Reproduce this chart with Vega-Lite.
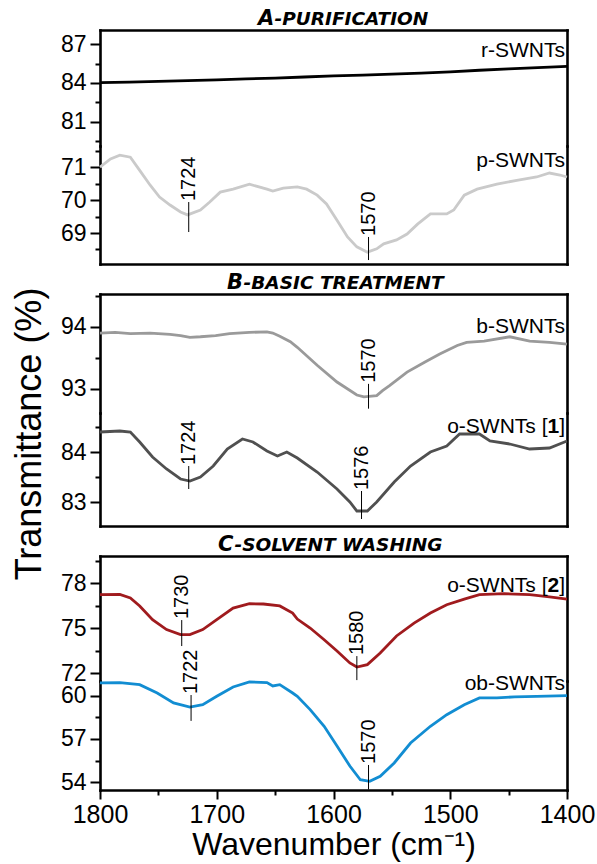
{
  "$schema": "https://vega.github.io/schema/vega-lite/v6.json",
  "padding": {"left": 12, "top": 8, "right": 4, "bottom": 2},
  "title": {"text": "Transmittance (%)", "orient": "left", "anchor": "middle", "font": "Liberation Sans", "fontSize": 36, "fontWeight": "normal", "color": "#000", "offset": 11},
  "spacing": 8,
  "datasets": {
    "spectra": [
      {"s": "r-SWNTs", "wn": 1800, "t": 84.03}, {"s": "r-SWNTs", "wn": 1775, "t": 84.07}, {"s": "r-SWNTs", "wn": 1750, "t": 84.12},
      {"s": "r-SWNTs", "wn": 1725, "t": 84.18}, {"s": "r-SWNTs", "wn": 1700, "t": 84.24}, {"s": "r-SWNTs", "wn": 1675, "t": 84.31},
      {"s": "r-SWNTs", "wn": 1650, "t": 84.38}, {"s": "r-SWNTs", "wn": 1625, "t": 84.46}, {"s": "r-SWNTs", "wn": 1600, "t": 84.55},
      {"s": "r-SWNTs", "wn": 1575, "t": 84.61}, {"s": "r-SWNTs", "wn": 1550, "t": 84.68}, {"s": "r-SWNTs", "wn": 1525, "t": 84.76},
      {"s": "r-SWNTs", "wn": 1500, "t": 84.86}, {"s": "r-SWNTs", "wn": 1475, "t": 84.98}, {"s": "r-SWNTs", "wn": 1450, "t": 85.09},
      {"s": "r-SWNTs", "wn": 1425, "t": 85.18}, {"s": "r-SWNTs", "wn": 1400, "t": 85.28},

      {"s": "p-SWNTs", "wn": 1800, "t": 71.0}, {"s": "p-SWNTs", "wn": 1791, "t": 71.25}, {"s": "p-SWNTs", "wn": 1783, "t": 71.36},
      {"s": "p-SWNTs", "wn": 1774, "t": 71.3}, {"s": "p-SWNTs", "wn": 1766, "t": 70.9}, {"s": "p-SWNTs", "wn": 1757, "t": 70.45},
      {"s": "p-SWNTs", "wn": 1749, "t": 70.09}, {"s": "p-SWNTs", "wn": 1740, "t": 69.85}, {"s": "p-SWNTs", "wn": 1731, "t": 69.64},
      {"s": "p-SWNTs", "wn": 1725, "t": 69.55}, {"s": "p-SWNTs", "wn": 1714, "t": 69.7}, {"s": "p-SWNTs", "wn": 1706, "t": 69.94},
      {"s": "p-SWNTs", "wn": 1697, "t": 70.24}, {"s": "p-SWNTs", "wn": 1686, "t": 70.33}, {"s": "p-SWNTs", "wn": 1672, "t": 70.48},
      {"s": "p-SWNTs", "wn": 1657, "t": 70.33}, {"s": "p-SWNTs", "wn": 1652, "t": 70.27}, {"s": "p-SWNTs", "wn": 1643, "t": 70.36},
      {"s": "p-SWNTs", "wn": 1631, "t": 70.4}, {"s": "p-SWNTs", "wn": 1623, "t": 70.33}, {"s": "p-SWNTs", "wn": 1614, "t": 70.15},
      {"s": "p-SWNTs", "wn": 1606, "t": 69.88}, {"s": "p-SWNTs", "wn": 1597, "t": 69.39}, {"s": "p-SWNTs", "wn": 1588, "t": 68.88},
      {"s": "p-SWNTs", "wn": 1580, "t": 68.58}, {"s": "p-SWNTs", "wn": 1571, "t": 68.42}, {"s": "p-SWNTs", "wn": 1563, "t": 68.52},
      {"s": "p-SWNTs", "wn": 1557, "t": 68.67}, {"s": "p-SWNTs", "wn": 1546, "t": 68.79}, {"s": "p-SWNTs", "wn": 1537, "t": 68.97},
      {"s": "p-SWNTs", "wn": 1528, "t": 69.27}, {"s": "p-SWNTs", "wn": 1517, "t": 69.58}, {"s": "p-SWNTs", "wn": 1503, "t": 69.58},
      {"s": "p-SWNTs", "wn": 1497, "t": 69.7}, {"s": "p-SWNTs", "wn": 1488, "t": 70.15}, {"s": "p-SWNTs", "wn": 1477, "t": 70.33},
      {"s": "p-SWNTs", "wn": 1460, "t": 70.48}, {"s": "p-SWNTs", "wn": 1443, "t": 70.6}, {"s": "p-SWNTs", "wn": 1426, "t": 70.7},
      {"s": "p-SWNTs", "wn": 1415, "t": 70.82}, {"s": "p-SWNTs", "wn": 1406, "t": 70.76}, {"s": "p-SWNTs", "wn": 1400, "t": 70.7},

      {"s": "b-SWNTs", "wn": 1800, "t": 93.9}, {"s": "b-SWNTs", "wn": 1787, "t": 93.91}, {"s": "b-SWNTs", "wn": 1774, "t": 93.89},
      {"s": "b-SWNTs", "wn": 1757, "t": 93.9}, {"s": "b-SWNTs", "wn": 1740, "t": 93.88}, {"s": "b-SWNTs", "wn": 1731, "t": 93.86},
      {"s": "b-SWNTs", "wn": 1723, "t": 93.83}, {"s": "b-SWNTs", "wn": 1714, "t": 93.84}, {"s": "b-SWNTs", "wn": 1701, "t": 93.86},
      {"s": "b-SWNTs", "wn": 1689, "t": 93.89}, {"s": "b-SWNTs", "wn": 1672, "t": 93.91}, {"s": "b-SWNTs", "wn": 1657, "t": 93.92},
      {"s": "b-SWNTs", "wn": 1652, "t": 93.9}, {"s": "b-SWNTs", "wn": 1646, "t": 93.85}, {"s": "b-SWNTs", "wn": 1637, "t": 93.76},
      {"s": "b-SWNTs", "wn": 1631, "t": 93.67}, {"s": "b-SWNTs", "wn": 1614, "t": 93.38}, {"s": "b-SWNTs", "wn": 1597, "t": 93.11},
      {"s": "b-SWNTs", "wn": 1580, "t": 92.9}, {"s": "b-SWNTs", "wn": 1574, "t": 92.87}, {"s": "b-SWNTs", "wn": 1563, "t": 92.89},
      {"s": "b-SWNTs", "wn": 1558, "t": 92.97}, {"s": "b-SWNTs", "wn": 1552, "t": 93.05}, {"s": "b-SWNTs", "wn": 1537, "t": 93.27},
      {"s": "b-SWNTs", "wn": 1522, "t": 93.43}, {"s": "b-SWNTs", "wn": 1509, "t": 93.56}, {"s": "b-SWNTs", "wn": 1494, "t": 93.7},
      {"s": "b-SWNTs", "wn": 1486, "t": 93.75}, {"s": "b-SWNTs", "wn": 1471, "t": 93.77}, {"s": "b-SWNTs", "wn": 1449, "t": 93.84},
      {"s": "b-SWNTs", "wn": 1432, "t": 93.77}, {"s": "b-SWNTs", "wn": 1415, "t": 93.75}, {"s": "b-SWNTs", "wn": 1400, "t": 93.72},

      {"s": "o-SWNTs [1]", "wn": 1800, "t": 84.4}, {"s": "o-SWNTs [1]", "wn": 1783, "t": 84.42}, {"s": "o-SWNTs [1]", "wn": 1774, "t": 84.4},
      {"s": "o-SWNTs [1]", "wn": 1766, "t": 84.2}, {"s": "o-SWNTs [1]", "wn": 1755, "t": 83.9}, {"s": "o-SWNTs [1]", "wn": 1743, "t": 83.66},
      {"s": "o-SWNTs [1]", "wn": 1731, "t": 83.46}, {"s": "o-SWNTs [1]", "wn": 1723, "t": 83.42}, {"s": "o-SWNTs [1]", "wn": 1714, "t": 83.5},
      {"s": "o-SWNTs [1]", "wn": 1703, "t": 83.72}, {"s": "o-SWNTs [1]", "wn": 1691, "t": 84.06}, {"s": "o-SWNTs [1]", "wn": 1678, "t": 84.26},
      {"s": "o-SWNTs [1]", "wn": 1669, "t": 84.2}, {"s": "o-SWNTs [1]", "wn": 1657, "t": 84.02}, {"s": "o-SWNTs [1]", "wn": 1648, "t": 83.92},
      {"s": "o-SWNTs [1]", "wn": 1640, "t": 84.0}, {"s": "o-SWNTs [1]", "wn": 1631, "t": 83.88}, {"s": "o-SWNTs [1]", "wn": 1614, "t": 83.6},
      {"s": "o-SWNTs [1]", "wn": 1597, "t": 83.26}, {"s": "o-SWNTs [1]", "wn": 1586, "t": 83.0}, {"s": "o-SWNTs [1]", "wn": 1580, "t": 82.82},
      {"s": "o-SWNTs [1]", "wn": 1571, "t": 82.82}, {"s": "o-SWNTs [1]", "wn": 1563, "t": 83.0}, {"s": "o-SWNTs [1]", "wn": 1548, "t": 83.4},
      {"s": "o-SWNTs [1]", "wn": 1534, "t": 83.72}, {"s": "o-SWNTs [1]", "wn": 1517, "t": 84.0}, {"s": "o-SWNTs [1]", "wn": 1503, "t": 84.12},
      {"s": "o-SWNTs [1]", "wn": 1492, "t": 84.36}, {"s": "o-SWNTs [1]", "wn": 1475, "t": 84.36}, {"s": "o-SWNTs [1]", "wn": 1466, "t": 84.22},
      {"s": "o-SWNTs [1]", "wn": 1449, "t": 84.16}, {"s": "o-SWNTs [1]", "wn": 1432, "t": 84.06}, {"s": "o-SWNTs [1]", "wn": 1415, "t": 84.08},
      {"s": "o-SWNTs [1]", "wn": 1400, "t": 84.22},

      {"s": "o-SWNTs [2]", "wn": 1800, "t": 77.22}, {"s": "o-SWNTs [2]", "wn": 1783, "t": 77.24}, {"s": "o-SWNTs [2]", "wn": 1774, "t": 77.0},
      {"s": "o-SWNTs [2]", "wn": 1766, "t": 76.47}, {"s": "o-SWNTs [2]", "wn": 1755, "t": 75.56}, {"s": "o-SWNTs [2]", "wn": 1743, "t": 74.9},
      {"s": "o-SWNTs [2]", "wn": 1731, "t": 74.56}, {"s": "o-SWNTs [2]", "wn": 1723, "t": 74.56}, {"s": "o-SWNTs [2]", "wn": 1712, "t": 74.9},
      {"s": "o-SWNTs [2]", "wn": 1700, "t": 75.56}, {"s": "o-SWNTs [2]", "wn": 1686, "t": 76.33}, {"s": "o-SWNTs [2]", "wn": 1672, "t": 76.62},
      {"s": "o-SWNTs [2]", "wn": 1660, "t": 76.6}, {"s": "o-SWNTs [2]", "wn": 1646, "t": 76.47}, {"s": "o-SWNTs [2]", "wn": 1635, "t": 76.0},
      {"s": "o-SWNTs [2]", "wn": 1631, "t": 75.6}, {"s": "o-SWNTs [2]", "wn": 1620, "t": 75.0}, {"s": "o-SWNTs [2]", "wn": 1608, "t": 74.22},
      {"s": "o-SWNTs [2]", "wn": 1597, "t": 73.47}, {"s": "o-SWNTs [2]", "wn": 1586, "t": 72.67}, {"s": "o-SWNTs [2]", "wn": 1580, "t": 72.4},
      {"s": "o-SWNTs [2]", "wn": 1571, "t": 72.56}, {"s": "o-SWNTs [2]", "wn": 1560, "t": 73.33}, {"s": "o-SWNTs [2]", "wn": 1546, "t": 74.47},
      {"s": "o-SWNTs [2]", "wn": 1531, "t": 75.33}, {"s": "o-SWNTs [2]", "wn": 1517, "t": 76.0}, {"s": "o-SWNTs [2]", "wn": 1503, "t": 76.55},
      {"s": "o-SWNTs [2]", "wn": 1488, "t": 76.93}, {"s": "o-SWNTs [2]", "wn": 1475, "t": 77.22}, {"s": "o-SWNTs [2]", "wn": 1454, "t": 77.29},
      {"s": "o-SWNTs [2]", "wn": 1432, "t": 77.22}, {"s": "o-SWNTs [2]", "wn": 1415, "t": 77.07}, {"s": "o-SWNTs [2]", "wn": 1400, "t": 76.93},

      {"s": "ob-SWNTs", "wn": 1800, "t": 60.88}, {"s": "ob-SWNTs", "wn": 1783, "t": 60.9}, {"s": "ob-SWNTs", "wn": 1766, "t": 60.76},
      {"s": "ob-SWNTs", "wn": 1751, "t": 60.18}, {"s": "ob-SWNTs", "wn": 1737, "t": 59.49}, {"s": "ob-SWNTs", "wn": 1723, "t": 59.21},
      {"s": "ob-SWNTs", "wn": 1712, "t": 59.37}, {"s": "ob-SWNTs", "wn": 1700, "t": 59.95}, {"s": "ob-SWNTs", "wn": 1686, "t": 60.6},
      {"s": "ob-SWNTs", "wn": 1672, "t": 60.95}, {"s": "ob-SWNTs", "wn": 1657, "t": 60.9}, {"s": "ob-SWNTs", "wn": 1652, "t": 60.67},
      {"s": "ob-SWNTs", "wn": 1646, "t": 60.76}, {"s": "ob-SWNTs", "wn": 1635, "t": 60.18}, {"s": "ob-SWNTs", "wn": 1631, "t": 59.95},
      {"s": "ob-SWNTs", "wn": 1620, "t": 59.03}, {"s": "ob-SWNTs", "wn": 1608, "t": 57.88}, {"s": "ob-SWNTs", "wn": 1597, "t": 56.52},
      {"s": "ob-SWNTs", "wn": 1586, "t": 55.13}, {"s": "ob-SWNTs", "wn": 1577, "t": 54.18}, {"s": "ob-SWNTs", "wn": 1569, "t": 54.07},
      {"s": "ob-SWNTs", "wn": 1560, "t": 54.42}, {"s": "ob-SWNTs", "wn": 1548, "t": 55.34}, {"s": "ob-SWNTs", "wn": 1534, "t": 56.72},
      {"s": "ob-SWNTs", "wn": 1517, "t": 57.88}, {"s": "ob-SWNTs", "wn": 1503, "t": 58.68}, {"s": "ob-SWNTs", "wn": 1488, "t": 59.37},
      {"s": "ob-SWNTs", "wn": 1475, "t": 59.84}, {"s": "ob-SWNTs", "wn": 1460, "t": 59.84}, {"s": "ob-SWNTs", "wn": 1445, "t": 59.91},
      {"s": "ob-SWNTs", "wn": 1426, "t": 59.95}, {"s": "ob-SWNTs", "wn": 1400, "t": 60.0}
    ],
    "peaks": [
      {"s": "p-SWNTs", "wn": 1724, "lo": 69.03, "hi": 69.94, "label": "1724"},
      {"s": "p-SWNTs", "wn": 1570, "lo": 68.18, "hi": 68.88, "label": "1570"},
      {"s": "b-SWNTs", "wn": 1570, "lo": 92.68, "hi": 93.08, "label": "1570"},
      {"s": "o-SWNTs [1]", "wn": 1724, "lo": 83.26, "hi": 83.72, "label": "1724"},
      {"s": "o-SWNTs [1]", "wn": 1576, "lo": 82.66, "hi": 83.22, "label": "1576"},
      {"s": "o-SWNTs [2]", "wn": 1730, "lo": 73.8, "hi": 75.53, "label": "1730"},
      {"s": "o-SWNTs [2]", "wn": 1580, "lo": 71.53, "hi": 73.13, "label": "1580"},
      {"s": "ob-SWNTs", "wn": 1722, "lo": 58.25, "hi": 60.04, "label": "1722"},
      {"s": "ob-SWNTs", "wn": 1570, "lo": 53.5, "hi": 55.2, "label": "1570"}
    ],
    "names": [
      {"s": "r-SWNTs", "part": "whole", "txt": "r-SWNTs", "t": 86.46},
      {"s": "p-SWNTs", "part": "whole", "txt": "p-SWNTs", "t": 71.18},
      {"s": "b-SWNTs", "part": "whole", "txt": "b-SWNTs", "t": 94.0},
      {"s": "o-SWNTs [1]", "part": "pre", "txt": "o-SWNTs [", "t": 84.5},
      {"s": "o-SWNTs [1]", "part": "num", "txt": "1", "t": 84.5},
      {"s": "o-SWNTs [1]", "part": "post", "txt": "]", "t": 84.5},
      {"s": "o-SWNTs [2]", "part": "pre", "txt": "o-SWNTs [", "t": 77.8},
      {"s": "o-SWNTs [2]", "part": "num", "txt": "2", "t": 77.8},
      {"s": "o-SWNTs [2]", "part": "post", "txt": "]", "t": 77.8},
      {"s": "ob-SWNTs", "part": "whole", "txt": "ob-SWNTs", "t": 60.8}
    ]
  },
  "vconcat": [
    {
      "spacing": 0,
      "bounds": "flush",
      "vconcat": [
        {
          "width": 467, "height": 116,
          "title": {"text": "A", "subtitle": "\u200b\u00a0\u00a0\u2009-PURIFICATION", "anchor": "start", "frame": "group", "dx": 158, "offset": 1, "font": "DejaVu Sans", "fontSize": 21, "fontWeight": "bold", "fontStyle": "italic", "color": "#000", "subtitleFont": "DejaVu Sans", "subtitleFontSize": 18.5, "subtitleFontWeight": "bold", "subtitleFontStyle": "italic", "subtitleColor": "#000", "subtitlePadding": -18.7},
          "layer": [
            {"data": {"name": "spectra"}, "transform": [{"filter": "datum.s === 'r-SWNTs'"}],
             "mark": {"type": "line", "color": "#000", "strokeWidth": 2.8},
             "encoding": {
               "x": {"field": "wn", "type": "quantitative", "scale": {"domain": [1400, 1800], "reverse": true, "nice": false, "zero": false}, "axis": {"orient": "top", "labels": false, "ticks": false, "title": null}},
               "y": {"field": "t", "type": "quantitative", "scale": {"domain": [79.15, 88.08], "nice": false, "zero": false}, "axis": {"orient": "left", "values": [81, 84, 87], "title": null, "labelFontSize": 23, "tickSize": 10, "labelPadding": 4}}
             }},
            {"data": {"name": "peaks"}, "transform": [{"filter": "datum.s === 'r-SWNTs'"}],
             "mark": {"type": "rule", "color": "#000", "strokeWidth": 1},
             "encoding": {
               "x": {"field": "wn", "type": "quantitative", "scale": {"domain": [1400, 1800], "reverse": true, "nice": false, "zero": false}, "axis": null},
               "y": {"field": "lo", "type": "quantitative", "scale": {"domain": [79.15, 88.08], "nice": false, "zero": false}, "axis": {"orient": "left", "values": [79.5, 82.5, 85.5], "labels": false, "domain": false, "tickSize": 5, "title": null}},
               "y2": {"field": "hi"}
             }},
            {"data": {"name": "names"}, "transform": [{"filter": "datum.s === 'r-SWNTs'"}],
             "mark": {"type": "text", "align": "right", "baseline": "middle", "fontSize": 21, "dx": -2},
             "encoding": {
               "x": {"datum": 1400, "type": "quantitative", "scale": {"domain": [1400, 1800], "reverse": true, "nice": false, "zero": false}, "axis": null},
               "y": {"field": "t", "type": "quantitative", "scale": {"domain": [79.15, 88.08], "nice": false, "zero": false}, "axis": {"orient": "right", "labels": false, "ticks": false, "title": null}},
               "text": {"field": "txt"}
             }}
          ],
          "resolve": {"axis": {"x": "independent", "y": "independent"}}
        },
        {
          "width": 467, "height": 118,
          "layer": [
            {"data": {"name": "spectra"}, "transform": [{"filter": "datum.s === 'p-SWNTs'"}],
             "mark": {"type": "line", "color": "#cacaca", "strokeWidth": 2.8},
             "encoding": {
               "x": {"field": "wn", "type": "quantitative", "scale": {"domain": [1400, 1800], "reverse": true, "nice": false, "zero": false}, "axis": {"orient": "bottom", "labels": false, "ticks": false, "title": null}},
               "y": {"field": "t", "type": "quantitative", "scale": {"domain": [68.06, 71.64], "nice": false, "zero": false}, "axis": {"orient": "left", "values": [69, 70, 71], "title": null, "labelFontSize": 23, "tickSize": 10, "labelPadding": 4}}
             }},
            {"data": {"name": "peaks"}, "transform": [{"filter": "datum.s === 'p-SWNTs'"}],
             "mark": {"type": "rule", "color": "#000", "strokeWidth": 1},
             "encoding": {
               "x": {"field": "wn", "type": "quantitative", "scale": {"domain": [1400, 1800], "reverse": true, "nice": false, "zero": false}, "axis": null},
               "y": {"field": "lo", "type": "quantitative", "scale": {"domain": [68.06, 71.64], "nice": false, "zero": false}, "axis": {"orient": "left", "values": [68.5, 69.5, 70.5, 71.5], "labels": false, "domain": false, "tickSize": 5, "title": null}},
               "y2": {"field": "hi"}
             }},
            {"data": {"name": "peaks"}, "transform": [{"filter": "datum.s === 'p-SWNTs'"}],
             "mark": {"type": "text", "angle": 270, "align": "left", "baseline": "middle", "fontSize": 20, "dx": 1},
             "encoding": {
               "x": {"field": "wn", "type": "quantitative", "scale": {"domain": [1400, 1800], "reverse": true, "nice": false, "zero": false}, "axis": null},
               "y": {"field": "hi", "type": "quantitative", "scale": {"domain": [68.06, 71.64], "nice": false, "zero": false}, "axis": {"orient": "right", "labels": false, "ticks": false, "title": null}},
               "text": {"field": "label"}
             }},
            {"data": {"name": "names"}, "transform": [{"filter": "datum.s === 'p-SWNTs'"}],
             "mark": {"type": "text", "align": "right", "baseline": "middle", "fontSize": 21, "dx": -2},
             "encoding": {
               "x": {"datum": 1400, "type": "quantitative", "scale": {"domain": [1400, 1800], "reverse": true, "nice": false, "zero": false}, "axis": null},
               "y": {"field": "t", "type": "quantitative", "scale": {"domain": [68.06, 71.64], "nice": false, "zero": false}, "axis": null},
               "text": {"field": "txt"}
             }}
          ],
          "resolve": {"axis": {"x": "independent", "y": "independent"}}
        }
      ]
    },
    {
      "spacing": 0,
      "bounds": "flush",
      "vconcat": [
        {
          "width": 467, "height": 119,
          "title": {"text": "B", "subtitle": "\u200b\u00a0\u00a0\u2009-BASIC TREATMENT", "anchor": "start", "frame": "group", "dx": 127, "offset": 1, "font": "DejaVu Sans", "fontSize": 21, "fontWeight": "bold", "fontStyle": "italic", "color": "#000", "subtitleFont": "DejaVu Sans", "subtitleFontSize": 18.5, "subtitleFontWeight": "bold", "subtitleFontStyle": "italic", "subtitleColor": "#000", "subtitlePadding": -18.7},
          "layer": [
            {"data": {"name": "spectra"}, "transform": [{"filter": "datum.s === 'b-SWNTs'"}],
             "mark": {"type": "line", "color": "#9a9a9a", "strokeWidth": 2.8},
             "encoding": {
               "x": {"field": "wn", "type": "quantitative", "scale": {"domain": [1400, 1800], "reverse": true, "nice": false, "zero": false}, "axis": {"orient": "top", "labels": false, "ticks": false, "title": null}},
               "y": {"field": "t", "type": "quantitative", "scale": {"domain": [92.61, 94.53], "nice": false, "zero": false}, "axis": {"orient": "left", "values": [93, 94], "title": null, "labelFontSize": 23, "tickSize": 10, "labelPadding": 4}}
             }},
            {"data": {"name": "peaks"}, "transform": [{"filter": "datum.s === 'b-SWNTs'"}],
             "mark": {"type": "rule", "color": "#000", "strokeWidth": 1},
             "encoding": {
               "x": {"field": "wn", "type": "quantitative", "scale": {"domain": [1400, 1800], "reverse": true, "nice": false, "zero": false}, "axis": null},
               "y": {"field": "lo", "type": "quantitative", "scale": {"domain": [92.61, 94.53], "nice": false, "zero": false}, "axis": {"orient": "left", "values": [93.5, 94.5], "labels": false, "domain": false, "tickSize": 5, "title": null}},
               "y2": {"field": "hi"}
             }},
            {"data": {"name": "peaks"}, "transform": [{"filter": "datum.s === 'b-SWNTs'"}],
             "mark": {"type": "text", "angle": 270, "align": "left", "baseline": "middle", "fontSize": 20, "dx": 1},
             "encoding": {
               "x": {"field": "wn", "type": "quantitative", "scale": {"domain": [1400, 1800], "reverse": true, "nice": false, "zero": false}, "axis": null},
               "y": {"field": "hi", "type": "quantitative", "scale": {"domain": [92.61, 94.53], "nice": false, "zero": false}, "axis": {"orient": "right", "labels": false, "ticks": false, "title": null}},
               "text": {"field": "label"}
             }},
            {"data": {"name": "names"}, "transform": [{"filter": "datum.s === 'b-SWNTs'"}],
             "mark": {"type": "text", "align": "right", "baseline": "middle", "fontSize": 21, "dx": -2},
             "encoding": {
               "x": {"datum": 1400, "type": "quantitative", "scale": {"domain": [1400, 1800], "reverse": true, "nice": false, "zero": false}, "axis": null},
               "y": {"field": "t", "type": "quantitative", "scale": {"domain": [92.61, 94.53], "nice": false, "zero": false}, "axis": null},
               "text": {"field": "txt"}
             }}
          ],
          "resolve": {"axis": {"x": "independent", "y": "independent"}}
        },
        {
          "width": 467, "height": 113,
          "layer": [
            {"data": {"name": "spectra"}, "transform": [{"filter": "datum.s === 'o-SWNTs [1]'"}],
             "mark": {"type": "line", "color": "#505050", "strokeWidth": 2.8},
             "encoding": {
               "x": {"field": "wn", "type": "quantitative", "scale": {"domain": [1400, 1800], "reverse": true, "nice": false, "zero": false}, "axis": {"orient": "bottom", "labels": false, "ticks": false, "title": null}},
               "y": {"field": "t", "type": "quantitative", "scale": {"domain": [82.52, 84.78], "nice": false, "zero": false}, "axis": {"orient": "left", "values": [83, 84], "title": null, "labelFontSize": 23, "tickSize": 10, "labelPadding": 4}}
             }},
            {"data": {"name": "peaks"}, "transform": [{"filter": "datum.s === 'o-SWNTs [1]'"}],
             "mark": {"type": "rule", "color": "#000", "strokeWidth": 1},
             "encoding": {
               "x": {"field": "wn", "type": "quantitative", "scale": {"domain": [1400, 1800], "reverse": true, "nice": false, "zero": false}, "axis": null},
               "y": {"field": "lo", "type": "quantitative", "scale": {"domain": [82.52, 84.78], "nice": false, "zero": false}, "axis": {"orient": "left", "values": [83.5, 84.5], "labels": false, "domain": false, "tickSize": 5, "title": null}},
               "y2": {"field": "hi"}
             }},
            {"data": {"name": "peaks"}, "transform": [{"filter": "datum.s === 'o-SWNTs [1]'"}],
             "mark": {"type": "text", "angle": 270, "align": "left", "baseline": "middle", "fontSize": 20, "dx": 1},
             "encoding": {
               "x": {"field": "wn", "type": "quantitative", "scale": {"domain": [1400, 1800], "reverse": true, "nice": false, "zero": false}, "axis": null},
               "y": {"field": "hi", "type": "quantitative", "scale": {"domain": [82.52, 84.78], "nice": false, "zero": false}, "axis": {"orient": "right", "labels": false, "ticks": false, "title": null}},
               "text": {"field": "label"}
             }},
            {"data": {"name": "names"}, "transform": [{"filter": "datum.s === 'o-SWNTs [1]' && datum.part === 'post'"}],
             "mark": {"type": "text", "align": "right", "baseline": "middle", "fontSize": 21, "dx": -2},
             "encoding": {
               "x": {"datum": 1400, "type": "quantitative", "scale": {"domain": [1400, 1800], "reverse": true, "nice": false, "zero": false}, "axis": null},
               "y": {"field": "t", "type": "quantitative", "scale": {"domain": [82.52, 84.78], "nice": false, "zero": false}, "axis": null},
               "text": {"field": "txt"}
             }},
            {"data": {"name": "names"}, "transform": [{"filter": "datum.s === 'o-SWNTs [1]' && datum.part === 'num'"}],
             "mark": {"type": "text", "align": "right", "baseline": "middle", "fontSize": 21, "fontWeight": "bold", "dx": -7.8},
             "encoding": {
               "x": {"datum": 1400, "type": "quantitative", "scale": {"domain": [1400, 1800], "reverse": true, "nice": false, "zero": false}, "axis": null},
               "y": {"field": "t", "type": "quantitative", "scale": {"domain": [82.52, 84.78], "nice": false, "zero": false}, "axis": null},
               "text": {"field": "txt"}
             }},
            {"data": {"name": "names"}, "transform": [{"filter": "datum.s === 'o-SWNTs [1]' && datum.part === 'pre'"}],
             "mark": {"type": "text", "align": "right", "baseline": "middle", "fontSize": 21, "dx": -19.5},
             "encoding": {
               "x": {"datum": 1400, "type": "quantitative", "scale": {"domain": [1400, 1800], "reverse": true, "nice": false, "zero": false}, "axis": null},
               "y": {"field": "t", "type": "quantitative", "scale": {"domain": [82.52, 84.78], "nice": false, "zero": false}, "axis": null},
               "text": {"field": "txt"}
             }}
          ],
          "resolve": {"axis": {"x": "independent", "y": "independent"}}
        }
      ]
    },
    {
      "spacing": 0,
      "bounds": "flush",
      "vconcat": [
        {
          "width": 467, "height": 125,
          "title": {"text": "C", "subtitle": "\u200b\u00a0\u00a0\u2009-SOLVENT WASHING", "anchor": "start", "frame": "group", "dx": 118, "offset": 1, "font": "DejaVu Sans", "fontSize": 21, "fontWeight": "bold", "fontStyle": "italic", "color": "#000", "subtitleFont": "DejaVu Sans", "subtitleFontSize": 18.5, "subtitleFontWeight": "bold", "subtitleFontStyle": "italic", "subtitleColor": "#000", "subtitlePadding": -18.7},
          "layer": [
            {"data": {"name": "spectra"}, "transform": [{"filter": "datum.s === 'o-SWNTs [2]'"}],
             "mark": {"type": "line", "color": "#a01b1e", "strokeWidth": 2.8},
             "encoding": {
               "x": {"field": "wn", "type": "quantitative", "scale": {"domain": [1400, 1800], "reverse": true, "nice": false, "zero": false}, "axis": {"orient": "top", "labels": false, "ticks": false, "title": null}},
               "y": {"field": "t", "type": "quantitative", "scale": {"domain": [71.47, 79.8], "nice": false, "zero": false}, "axis": {"orient": "left", "values": [72, 75, 78], "title": null, "labelFontSize": 23, "tickSize": 10, "labelPadding": 4}}
             }},
            {"data": {"name": "peaks"}, "transform": [{"filter": "datum.s === 'o-SWNTs [2]'"}],
             "mark": {"type": "rule", "color": "#000", "strokeWidth": 1},
             "encoding": {
               "x": {"field": "wn", "type": "quantitative", "scale": {"domain": [1400, 1800], "reverse": true, "nice": false, "zero": false}, "axis": null},
               "y": {"field": "lo", "type": "quantitative", "scale": {"domain": [71.47, 79.8], "nice": false, "zero": false}, "axis": {"orient": "left", "values": [73.5, 76.5, 79.5], "labels": false, "domain": false, "tickSize": 5, "title": null}},
               "y2": {"field": "hi"}
             }},
            {"data": {"name": "peaks"}, "transform": [{"filter": "datum.s === 'o-SWNTs [2]'"}],
             "mark": {"type": "text", "angle": 270, "align": "left", "baseline": "middle", "fontSize": 20, "dx": 1},
             "encoding": {
               "x": {"field": "wn", "type": "quantitative", "scale": {"domain": [1400, 1800], "reverse": true, "nice": false, "zero": false}, "axis": null},
               "y": {"field": "hi", "type": "quantitative", "scale": {"domain": [71.47, 79.8], "nice": false, "zero": false}, "axis": {"orient": "right", "labels": false, "ticks": false, "title": null}},
               "text": {"field": "label"}
             }},
            {"data": {"name": "names"}, "transform": [{"filter": "datum.s === 'o-SWNTs [2]' && datum.part === 'post'"}],
             "mark": {"type": "text", "align": "right", "baseline": "middle", "fontSize": 21, "dx": -2},
             "encoding": {
               "x": {"datum": 1400, "type": "quantitative", "scale": {"domain": [1400, 1800], "reverse": true, "nice": false, "zero": false}, "axis": null},
               "y": {"field": "t", "type": "quantitative", "scale": {"domain": [71.47, 79.8], "nice": false, "zero": false}, "axis": null},
               "text": {"field": "txt"}
             }},
            {"data": {"name": "names"}, "transform": [{"filter": "datum.s === 'o-SWNTs [2]' && datum.part === 'num'"}],
             "mark": {"type": "text", "align": "right", "baseline": "middle", "fontSize": 21, "fontWeight": "bold", "dx": -7.8},
             "encoding": {
               "x": {"datum": 1400, "type": "quantitative", "scale": {"domain": [1400, 1800], "reverse": true, "nice": false, "zero": false}, "axis": null},
               "y": {"field": "t", "type": "quantitative", "scale": {"domain": [71.47, 79.8], "nice": false, "zero": false}, "axis": null},
               "text": {"field": "txt"}
             }},
            {"data": {"name": "names"}, "transform": [{"filter": "datum.s === 'o-SWNTs [2]' && datum.part === 'pre'"}],
             "mark": {"type": "text", "align": "right", "baseline": "middle", "fontSize": 21, "dx": -19.5},
             "encoding": {
               "x": {"datum": 1400, "type": "quantitative", "scale": {"domain": [1400, 1800], "reverse": true, "nice": false, "zero": false}, "axis": null},
               "y": {"field": "t", "type": "quantitative", "scale": {"domain": [71.47, 79.8], "nice": false, "zero": false}, "axis": null},
               "text": {"field": "txt"}
             }}
          ],
          "resolve": {"axis": {"x": "independent", "y": "independent"}}
        },
        {
          "width": 467, "height": 109,
          "layer": [
            {"data": {"name": "spectra"}, "transform": [{"filter": "datum.s === 'ob-SWNTs'"}],
             "mark": {"type": "line", "color": "#128dd2", "strokeWidth": 2.8},
             "encoding": {
               "x": {"field": "wn", "type": "quantitative", "scale": {"domain": [1400, 1800], "reverse": true, "nice": false, "zero": false}, "axis": {"orient": "bottom", "values": [1800, 1700, 1600, 1500, 1400], "format": "d", "labelFontSize": 25, "tickSize": 9, "labelPadding": 3, "title": "Wavenumber (cm⁻¹)", "titleFontSize": 32, "titlePadding": 2}},
               "y": {"field": "t", "type": "quantitative", "scale": {"domain": [53.47, 61.01], "nice": false, "zero": false}, "axis": {"orient": "left", "values": [54, 57, 60], "title": null, "labelFontSize": 23, "tickSize": 10, "labelPadding": 4}}
             }},
            {"data": {"name": "peaks"}, "transform": [{"filter": "datum.s === 'ob-SWNTs'"}],
             "mark": {"type": "rule", "color": "#000", "strokeWidth": 1},
             "encoding": {
               "x": {"field": "wn", "type": "quantitative", "scale": {"domain": [1400, 1800], "reverse": true, "nice": false, "zero": false}, "axis": {"orient": "bottom", "values": [1750, 1650, 1550, 1450], "labels": false, "domain": false, "tickSize": 5, "title": null}},
               "y": {"field": "lo", "type": "quantitative", "scale": {"domain": [53.47, 61.01], "nice": false, "zero": false}, "axis": {"orient": "left", "values": [55.5, 58.5], "labels": false, "domain": false, "tickSize": 5, "title": null}},
               "y2": {"field": "hi"}
             }},
            {"data": {"name": "peaks"}, "transform": [{"filter": "datum.s === 'ob-SWNTs'"}],
             "mark": {"type": "text", "angle": 270, "align": "left", "baseline": "middle", "fontSize": 20, "dx": 1},
             "encoding": {
               "x": {"field": "wn", "type": "quantitative", "scale": {"domain": [1400, 1800], "reverse": true, "nice": false, "zero": false}, "axis": null},
               "y": {"field": "hi", "type": "quantitative", "scale": {"domain": [53.47, 61.01], "nice": false, "zero": false}, "axis": {"orient": "right", "labels": false, "ticks": false, "title": null}},
               "text": {"field": "label"}
             }},
            {"data": {"name": "names"}, "transform": [{"filter": "datum.s === 'ob-SWNTs'"}],
             "mark": {"type": "text", "align": "right", "baseline": "middle", "fontSize": 21, "dx": -2},
             "encoding": {
               "x": {"datum": 1400, "type": "quantitative", "scale": {"domain": [1400, 1800], "reverse": true, "nice": false, "zero": false}, "axis": null},
               "y": {"field": "t", "type": "quantitative", "scale": {"domain": [53.47, 61.01], "nice": false, "zero": false}, "axis": null},
               "text": {"field": "txt"}
             }}
          ],
          "resolve": {"axis": {"x": "independent", "y": "independent"}}
        }
      ]
    }
  ],
  "config": {
    "view": {"stroke": null},
    "axis": {"domainColor": "#000", "domainWidth": 2.6, "domainCap": "square", "tickColor": "#000", "tickWidth": 2, "labelColor": "#000", "labelFont": "Liberation Sans", "titleFont": "Liberation Sans", "titleColor": "#000", "titleFontWeight": "normal", "grid": false, "labelFlush": false, "labelOverlap": false},
    "text": {"font": "Liberation Sans", "color": "#000"}
  }
}
